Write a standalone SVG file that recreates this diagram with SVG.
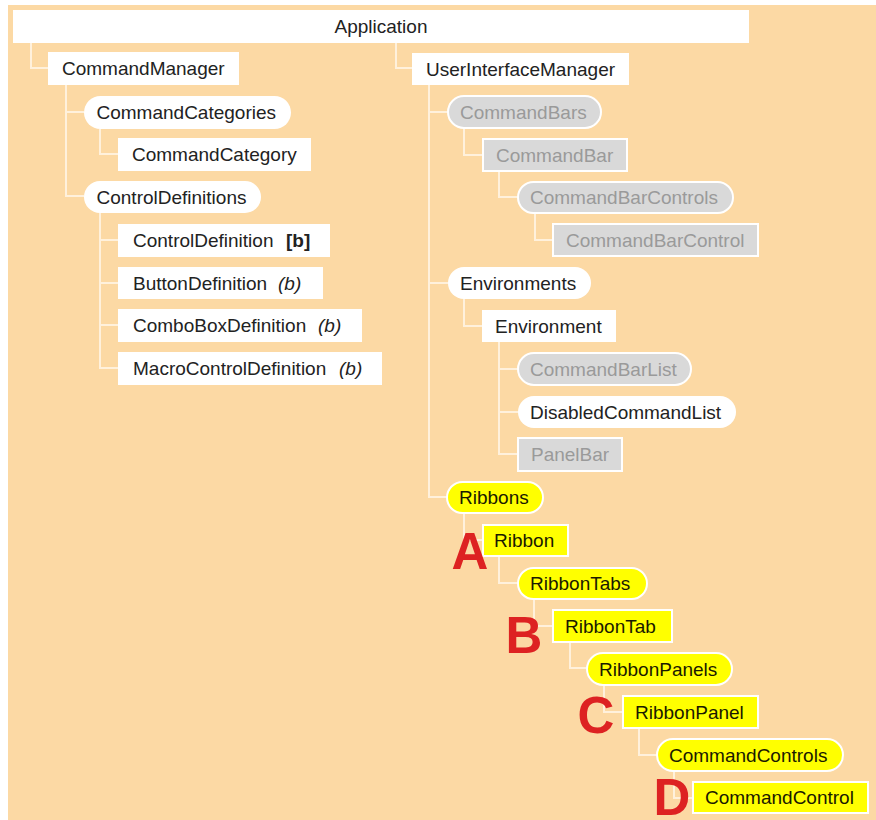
<svg xmlns="http://www.w3.org/2000/svg" width="876" height="820" viewBox="0 0 876 820">
<style>
.bg{fill:#FCD9A4}
.c{fill:none;stroke:#FFF1DC;stroke-width:2}
.w{fill:#FFFFFF}
.g{fill:#D9D9D9;stroke:#FFFFFF;stroke-width:2}
.y{fill:#FFFF00;stroke:#FFFFFF;stroke-width:2}
text{font-family:"Liberation Sans",Arial,sans-serif;font-size:19px;fill:#222222}
.tg{fill:#9A9A9A}
.ty{fill:#1A1A00}
.L{font-size:51px;font-weight:bold;fill:#DD2222;text-anchor:middle}
</style>
<rect x="0" y="0" width="876" height="820" fill="#FFFFFF"/>
<rect class="bg" x="8" y="5" width="868" height="815"/>
<g id="connectors">
<path class="c" d="M31,43 V68 H48"/>
<path class="c" d="M66,85 V196 H84 M66,112 H84"/>
<path class="c" d="M100,129 V154 H118"/>
<path class="c" d="M100,213 V368 H118 M100,240 H118 M100,283 H118 M100,325 H118"/>
<path class="c" d="M396,43 V68 H412"/>
<path class="c" d="M429,85 V497 H447 M429,112 H448 M429,283 H448"/>
<path class="c" d="M464,128 V155 H483"/>
<path class="c" d="M499,171 V197 H518"/>
<path class="c" d="M535,213 V240 H553"/>
<path class="c" d="M464,299 V326 H482"/>
<path class="c" d="M499,342 V454 H518 M499,369 H518 M499,412 H518"/>
<path class="c" d="M464,513 V540 H483"/>
<path class="c" d="M499,556 V583 H518"/>
<path class="c" d="M534,599 V626 H553"/>
<path class="c" d="M570,642 V668 H587"/>
<path class="c" d="M604,685 V712 H623"/>
<path class="c" d="M639,728 V755 H657"/>
<path class="c" d="M674,771 V798 H693"/>
</g>
<g id="Application"><rect class="w" x="13" y="10" width="736" height="33"/><text x="381" y="32.5" text-anchor="middle">Application</text></g>
<g id="CommandManager"><rect class="w" x="48" y="52" width="191" height="33"/><text x="62" y="75">CommandManager</text></g>
<g id="CommandCategories"><rect class="w" x="84" y="96" width="207" height="33" rx="16.5"/><text x="96.5" y="119">CommandCategories</text></g>
<g id="CommandCategory"><rect class="w" x="118" y="138" width="193" height="33"/><text x="132" y="161">CommandCategory</text></g>
<g id="ControlDefinitions"><rect class="w" x="84" y="181" width="177" height="32" rx="16"/><text x="96.5" y="203.5">ControlDefinitions</text></g>
<g id="ControlDefinition"><rect class="w" x="118" y="224" width="212" height="33"/><text x="133" y="247">ControlDefinition</text><text x="286" y="247" font-weight="bold">[b]</text></g>
<g id="ButtonDefinition"><rect class="w" x="118" y="267" width="205" height="32"/><text x="133" y="289.5">ButtonDefinition</text><text x="278" y="289.5" font-style="italic">(b)</text></g>
<g id="ComboBoxDefinition"><rect class="w" x="118" y="309" width="244" height="33"/><text x="133" y="332">ComboBoxDefinition</text><text x="318" y="332" font-style="italic">(b)</text></g>
<g id="MacroControlDefinition"><rect class="w" x="118" y="352" width="264" height="33"/><text x="133" y="375">MacroControlDefinition</text><text x="339" y="375" font-style="italic">(b)</text></g>
<g id="UserInterfaceManager"><rect class="w" x="412" y="53" width="217" height="32"/><text x="426" y="75.5">UserInterfaceManager</text></g>
<g id="CommandBars"><rect class="g" x="448" y="96" width="153" height="32" rx="16"/><text class="tg" x="460" y="118.5">CommandBars</text></g>
<g id="CommandBar"><rect class="g" x="483" y="139" width="144" height="32"/><text class="tg" x="496" y="161.5">CommandBar</text></g>
<g id="CommandBarControls"><rect class="g" x="518" y="182" width="215" height="31" rx="15.5"/><text class="tg" x="530" y="204">CommandBarControls</text></g>
<g id="CommandBarControl"><rect class="g" x="553" y="224" width="205" height="32"/><text class="tg" x="566" y="246.5">CommandBarControl</text></g>
<g id="Environments"><rect class="w" x="448" y="267" width="143" height="32" rx="16"/><text x="460" y="289.5">Environments</text></g>
<g id="Environment"><rect class="w" x="482" y="310" width="134" height="32"/><text x="495" y="332.5">Environment</text></g>
<g id="CommandBarList"><rect class="g" x="518" y="353" width="173" height="32" rx="16"/><text class="tg" x="530" y="375.5">CommandBarList</text></g>
<g id="DisabledCommandList"><rect class="w" x="518" y="396" width="218" height="32" rx="16"/><text x="530" y="418.5">DisabledCommandList</text></g>
<g id="PanelBar"><rect class="g" x="518" y="438" width="104" height="33"/><text class="tg" x="531" y="461">PanelBar</text></g>
<g id="Ribbons"><rect class="y" x="447" y="482" width="96" height="31" rx="15.5"/><text class="ty" x="459" y="504">Ribbons</text></g>
<g id="Ribbon"><rect class="y" x="483" y="525" width="85" height="31"/><text class="ty" x="494" y="547">Ribbon</text></g>
<g id="RibbonTabs"><rect class="y" x="518" y="568" width="129" height="31" rx="15.5"/><text class="ty" x="530" y="590">RibbonTabs</text></g>
<g id="RibbonTab"><rect class="y" x="553" y="610" width="119" height="32"/><text class="ty" x="565" y="632.5">RibbonTab</text></g>
<g id="RibbonPanels"><rect class="y" x="587" y="653" width="145" height="32" rx="16"/><text class="ty" x="599" y="675.5">RibbonPanels</text></g>
<g id="RibbonPanel"><rect class="y" x="623" y="696" width="135" height="32"/><text class="ty" x="635" y="718.5">RibbonPanel</text></g>
<g id="CommandControls"><rect class="y" x="657" y="739" width="186" height="32" rx="16"/><text class="ty" x="669" y="761.5">CommandControls</text></g>
<g id="CommandControl"><rect class="y" x="693" y="782" width="175" height="31"/><text class="ty" x="705" y="804">CommandControl</text></g>
<g id="labels">
<text class="L" x="470" y="569">A</text>
<text class="L" x="524" y="653">B</text>
<text class="L" x="596" y="733">C</text>
<text class="L" x="672" y="815">D</text>
</g>
</svg>
